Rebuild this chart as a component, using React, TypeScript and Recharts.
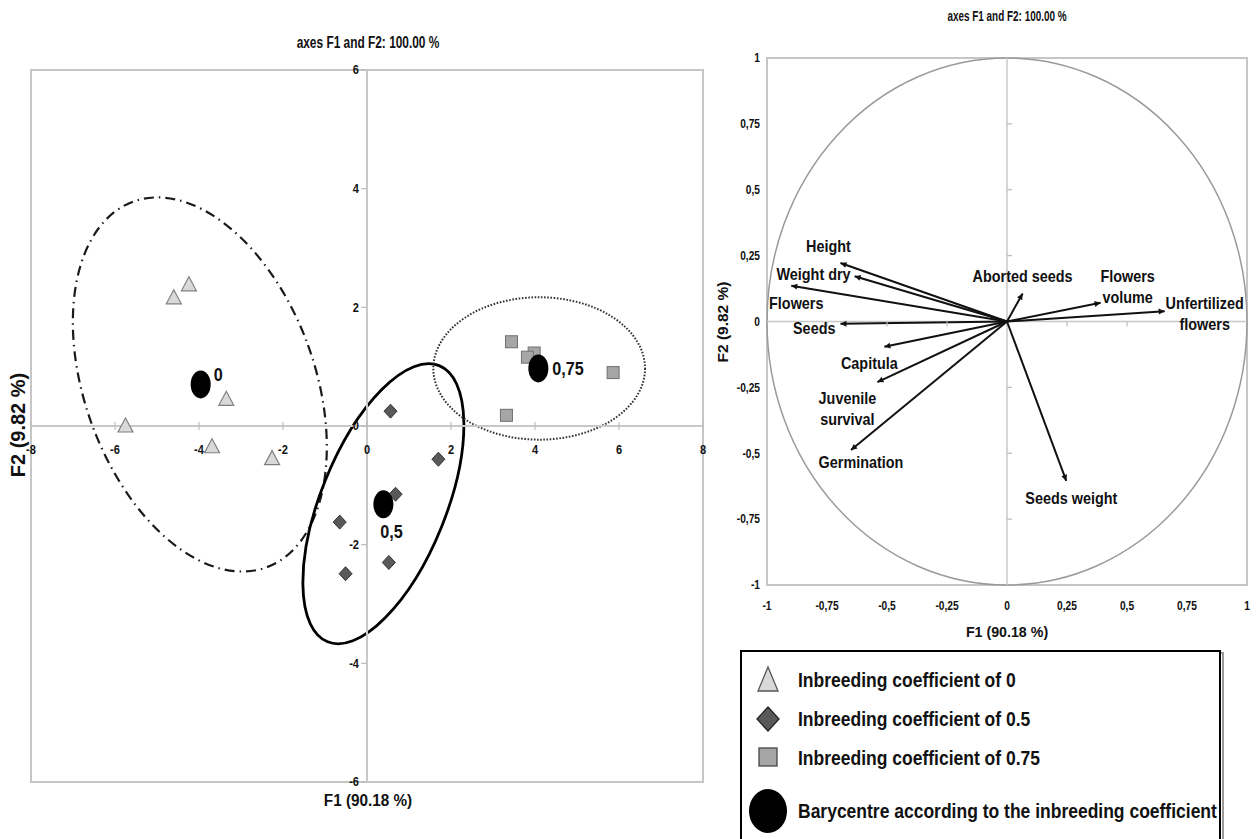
import React from 'react';
import {
    ScatterChart, Scatter, XAxis, YAxis,
    ReferenceLine, ReferenceArea, ReferenceDot
} from 'recharts';

// no Arial Narrow here: bold Liberation Sans squeezed horizontally
const SANS = "'Liberation Sans', Arial, Helvetica, sans-serif";

// ---- individuals plot (F1 x F2 scores) ----
const coef0 = [
    { x: -4.24, y: 2.38 }, { x: -4.6, y: 2.16 }, { x: -3.35, y: 0.45 },
    { x: -5.75, y: 0 }, { x: -3.69, y: -0.35 }, { x: -2.26, y: -0.55 },
];
const coef05 = [
    { x: 0.56, y: 0.25 }, { x: 1.7, y: -0.56 }, { x: 0.68, y: -1.15 },
    { x: -0.65, y: -1.62 }, { x: 0.52, y: -2.3 }, { x: -0.51, y: -2.49 },
];
const coef075 = [
    { x: 3.44, y: 1.42 }, { x: 3.98, y: 1.23 }, { x: 3.82, y: 1.16 },
    { x: 5.86, y: 0.9 }, { x: 3.32, y: 0.18 },
];
const barycentres = [
    { x: -3.96, y: 0.7, label: '0' },
    { x: 0.39, y: -1.32, label: '0,5' },
    { x: 4.08, y: 0.97, label: '0,75' },
];
// group ellipses: centre, half axes (data units, before rotation), screen rotation (deg)
const ellipses = [
    { cx: -3.98, cy: 0.7, rx: 2.74, ry: 3.28, angle: -20 },
    { cx: 0.39, cy: -1.31, rx: 1.49, ry: 2.51, angle: 22 },
    { cx: 4.1, cy: 0.97, rx: 2.52, ry: 1.2, angle: 0 },
];
const leftXTicks = [-8, -6, -4, -2, 0, 2, 4, 6, 8];
const leftYTicks = [-6, -4, -2, 0, 2, 4, 6];

// ---- correlation circle ----
const variables = [
    'Height', 'Weight dry', 'Flowers', 'Seeds', 'Capitula', 'Juvenile survival',
    'Germination', 'Seeds weight', 'Aborted seeds', 'Flowers volume', 'Unfertilized flowers',
];
const f1Loadings = [-0.694, -0.635, -0.899, -0.694, -0.511, -0.54, -0.65, 0.247, 0.065, 0.39, 0.657];
const f2Loadings = [0.222, 0.172, 0.136, -0.009, -0.096, -0.23, -0.488, -0.605, 0.106, 0.071, 0.039];
const circleTicks = [-1, -0.75, -0.5, -0.25, 0, 0.25, 0.5, 0.75, 1];

const legendItems = [
    'Inbreeding coefficient of 0',
    'Inbreeding coefficient of 0.5',
    'Inbreeding coefficient of 0.75',
    'Barycentre according to the inbreeding coefficient',
];

const loadings = variables.map((name, i) => ({ name, x: f1Loadings[i], y: f2Loadings[i] }));

// label placement for the arrows (pixels from the arrow tip)
const varLabelPos: Record<string, { dx: number; dy: number; anchor: string; lines: string[] }> = {
    'Height': { dx: -12, dy: -17, anchor: 'middle', lines: ['Height'] },
    'Weight dry': { dx: -4, dy: -2, anchor: 'end', lines: ['Weight dry'] },
    'Flowers': { dx: 5, dy: 18, anchor: 'middle', lines: ['Flowers'] },
    'Seeds': { dx: -5, dy: 4, anchor: 'end', lines: ['Seeds'] },
    'Capitula': { dx: -15, dy: 16, anchor: 'middle', lines: ['Capitula'] },
    'Juvenile survival': { dx: -30, dy: 16, anchor: 'middle', lines: ['Juvenile', 'survival'] },
    'Germination': { dx: 10, dy: 12, anchor: 'middle', lines: ['Germination'] },
    'Seeds weight': { dx: 5, dy: 17, anchor: 'middle', lines: ['Seeds weight'] },
    'Aborted seeds': { dx: 0, dy: -17, anchor: 'middle', lines: ['Aborted seeds'] },
    'Flowers volume': { dx: 27, dy: -27, anchor: 'middle', lines: ['Flowers', 'volume'] },
    'Unfertilized flowers': { dx: 40, dy: -8, anchor: 'middle', lines: ['Unfertilized', 'flowers'] },
};

const ellipseStyles = [
    { stroke: '#1a1a1a', strokeWidth: 2.2, strokeDasharray: '10 5 1.5 5' },
    { stroke: '#000', strokeWidth: 2.8, strokeDasharray: undefined },
    { stroke: '#333', strokeWidth: 2, strokeDasharray: '1.6 1.6' },
];

const fmt = (v: number) => String(v).replace('.', ',');

const NText = ({ x, y, size, scale = 0.88, anchor = 'start', rotate = 0, children }: any) => (
    <text transform={`translate(${x} ${y}) rotate(${rotate}) scale(${scale} 1)`} textAnchor={anchor}
        dominantBaseline="central" fontFamily={SANS} fontWeight={700} fontSize={size} fill="#111">{children}</text>
);

const Triangle = (p: any) => (
    <polygon
        points={`${p.cx},${p.cy - 8} ${p.cx + 7.5},${p.cy + 6} ${p.cx - 7.5},${p.cy + 6}`}
        fill="#d9d9d9" stroke="#808080" strokeWidth={1.2}
    />
);
const Diamond = (p: any) => (
    <polygon
        points={`${p.cx},${p.cy - 7} ${p.cx + 6.5},${p.cy} ${p.cx},${p.cy + 7} ${p.cx - 6.5},${p.cy}`}
        fill="#595959" stroke="#333" strokeWidth={1}
    />
);
const Square = (p: any) => (
    <rect x={p.cx - 6} y={p.cy - 6} width={12} height={12} fill="#a6a6a6" stroke="#6f6f6f" strokeWidth={1} />
);
const baryLabelOffset: Record<string, { dx: number; dy: number; anchor: string }> = {
    '0': { dx: 13, dy: -9, anchor: 'start' },
    '0,5': { dx: 8, dy: 28, anchor: 'middle' },
    '0,75': { dx: 14, dy: 1, anchor: 'start' },
};
const Barycentre = (p: any) => {
    const o = baryLabelOffset[p.payload.label];
    return (
        <g>
            <ellipse cx={p.cx} cy={p.cy} rx={10} ry={14} fill="#000" />
            <NText x={p.cx + o.dx} y={p.cy + o.dy} anchor={o.anchor} size={18} scale={0.9}>{p.payload.label}</NText>
        </g>
    );
};

const EllipseShape = (style: any, angle: number) => (p: any) => {
    const cx = p.x + p.width / 2;
    const cy = p.y + p.height / 2;
    return (
        <ellipse cx={cx} cy={cy} rx={Math.abs(p.width) / 2} ry={Math.abs(p.height) / 2}
            transform={`rotate(${angle} ${cx} ${cy})`} fill="none" {...style} />
    );
};
const BoxShape = (p: any) => (
    <rect x={p.x} y={p.y} width={p.width} height={p.height} fill="none" stroke="#c6c6c6" strokeWidth={2} />
);

const xTickDot = (v: number) => (p: any) => (
    <g>
        <line x1={p.cx} x2={p.cx} y1={p.cy - 4} y2={p.cy + 4} stroke="#bdbdbd" strokeWidth={1.2} />
        <NText x={p.cx} y={p.cy + 24} anchor="middle" size={13} scale={0.85}>{v}</NText>
    </g>
);
const yTickDot = (v: number) => (p: any) => (
    <g>
        <line x1={p.cx - 6} x2={p.cx} y1={p.cy} y2={p.cy} stroke="#bdbdbd" strokeWidth={1.2} />
        <NText x={p.cx - 8} y={p.cy} anchor="end" size={13} scale={0.85}>{v}</NText>
    </g>
);

const ArrowLine = (p: any) => {
    const { x1, y1, x2, y2 } = p;
    const ang = Math.atan2(y2 - y1, x2 - x1);
    const len = 6;
    const w = 3;
    const bx = x2 - len * Math.cos(ang);
    const by = y2 - len * Math.sin(ang);
    return (
        <g>
            <line x1={x1} y1={y1} x2={x2} y2={y2} stroke="#111" strokeWidth={2} />
            <polygon
                points={`${x2},${y2} ${bx - w * Math.sin(ang)},${by + w * Math.cos(ang)} ${bx + w * Math.sin(ang)},${by - w * Math.cos(ang)}`}
                fill="#111"
            />
        </g>
    );
};
const VarLabel = (p: any) => {
    const lp = varLabelPos[p.payload.name];
    return (
        <g>
            {lp.lines.map((t, i) => (
                <NText key={t} x={p.cx + lp.dx} y={p.cy + lp.dy + i * 21} anchor={lp.anchor} size={16} scale={0.9}>{t}</NText>
            ))}
        </g>
    );
};

const vTickMark = (p: any) => <line x1={p.cx} x2={p.cx} y1={p.cy} y2={p.cy + 5} stroke="#bbb" strokeWidth={1.2} />;
const hTickMark = (p: any) => <line x1={p.cx} x2={p.cx + 5} y1={p.cy} y2={p.cy} stroke="#bbb" strokeWidth={1.2} />;

const XTick = (p: any) => (
    <NText x={p.x} y={p.y + 6} anchor="middle" size={12} scale={0.85}>{fmt(p.payload.value)}</NText>
);
const YTick = (p: any) => (
    <NText x={p.x} y={p.y} anchor="end" size={12} scale={0.85}>{fmt(p.payload.value)}</NText>
);

function IndividualsChart() {
    return (
        <ScatterChart width={720} height={839} margin={{ top: 70, right: 17, bottom: 57, left: 31 }}>
            <XAxis type="number" dataKey="x" domain={[-8, 8]} hide />
            <YAxis type="number" dataKey="y" domain={[-6, 6]} hide />
            <ReferenceArea x1={-8} x2={8} y1={-6} y2={6} ifOverflow="visible" shape={BoxShape} />
            <ReferenceLine x={0} stroke="#c8c8c8" strokeWidth={2} />
            <ReferenceLine y={0} stroke="#c8c8c8" strokeWidth={2} />
            {leftXTicks.map(v => (
                <ReferenceDot key={'x' + v} x={v} y={0} ifOverflow="visible" shape={xTickDot(v)} />
            ))}
            {leftYTicks.map(v => (
                <ReferenceDot key={'y' + v} x={0} y={v} ifOverflow="visible" shape={yTickDot(v)} />
            ))}
            {ellipses.map((e, i) => (
                <ReferenceArea key={'e' + i} x1={e.cx - e.rx} x2={e.cx + e.rx} y1={e.cy - e.ry} y2={e.cy + e.ry}
                    ifOverflow="visible" shape={EllipseShape(ellipseStyles[i], e.angle)} />
            ))}
            <Scatter name="Inbreeding coefficient of 0" data={coef0} shape={Triangle} isAnimationActive={false} />
            <Scatter name="Inbreeding coefficient of 0.5" data={coef05} shape={Diamond} isAnimationActive={false} />
            <Scatter name="Inbreeding coefficient of 0.75" data={coef075} shape={Square} isAnimationActive={false} />
            <Scatter name="Barycentre" data={barycentres} shape={Barycentre} isAnimationActive={false} />
        </ScatterChart>
    );
}

function CorrelationCircle() {
    const inner = circleTicks.filter(v => Math.abs(v) !== 1 && v !== 0);
    return (
        <ScatterChart width={537} height={640} margin={{ top: 58, right: 10, bottom: 25, left: 7 }}>
            <XAxis type="number" dataKey="x" domain={[-1, 1]} ticks={circleTicks} interval={0}
                height={30} axisLine={false} tickLine={false} tickSize={0} tickMargin={15}
                tick={<XTick />} />
            <YAxis type="number" dataKey="y" domain={[-1, 1]} ticks={circleTicks} interval={0}
                width={40} axisLine={false} tickLine={false} tickSize={0} tickMargin={7}
                tick={<YTick />} />
            <ReferenceArea x1={-1} x2={1} y1={-1} y2={1} ifOverflow="visible" shape={BoxShape} />
            <ReferenceLine x={0} stroke="#c8c8c8" strokeWidth={1.5} />
            <ReferenceLine y={0} stroke="#c8c8c8" strokeWidth={1.5} />
            {inner.map(v => (
                <ReferenceDot key={'cx' + v} x={v} y={0} ifOverflow="visible" shape={vTickMark} />
            ))}
            {inner.map(v => (
                <ReferenceDot key={'cy' + v} x={0} y={v} ifOverflow="visible" shape={hTickMark} />
            ))}
            <ReferenceArea x1={-1} x2={1} y1={-1} y2={1} ifOverflow="visible"
                shape={EllipseShape({ stroke: '#9a9a9a', strokeWidth: 1.5 }, 0)} />
            {loadings.map(d => (
                <ReferenceLine key={d.name} ifOverflow="visible"
                    segment={[{ x: 0, y: 0 }, { x: d.x, y: d.y }]}
                    shape={ArrowLine} />
            ))}
            <Scatter name="Variables" data={loadings} shape={VarLabel} isAnimationActive={false} />
        </ScatterChart>
    );
}

function Annotations() {
    return (
        <svg width={1257} height={839} style={{ position: 'absolute', left: 0, top: 0, pointerEvents: 'none' }}>
            <NText x={368} y={42} anchor="middle" size={17} scale={0.7}>axes F1 and F2: 100.00 %</NText>
            <NText x={368} y={800} anchor="middle" size={17} scale={0.9}>F1 (90.18 %)</NText>
            <NText x={18} y={425} anchor="middle" size={20} scale={1} rotate={-90}>F2 (9.82 %)</NText>
            <NText x={1007} y={16} anchor="middle" size={14} scale={0.71}>axes F1 and F2: 100.00 %</NText>
            <NText x={1007} y={632} anchor="middle" size={15} scale={0.95}>F1 (90.18 %)</NText>
            <NText x={722} y={322} anchor="middle" size={15.5} scale={1} rotate={-90}>F2 (9.82 %)</NText>

            <g transform="translate(741 651)">
                <rect x={3} y={2} width={479} height={200} fill="none" stroke="#9a9a9a" strokeWidth={2} />
                <rect x={0} y={0} width={479} height={200} fill="#fff" stroke="#000" strokeWidth={2} />
                <polygon points="27,16 37,40 17,40" fill="#d9d9d9" stroke="#555" strokeWidth={1.3} />
                <polygon points="27,56 38,68 27,80 16,68" fill="#595959" stroke="#222" strokeWidth={1.3} />
                <rect x={18} y={97} width={18} height={18} fill="#a6a6a6" stroke="#444" strokeWidth={1.3} />
                <ellipse cx={27} cy={160} rx={19} ry={22} fill="#000" />
                {legendItems.map((s, i) => (
                    <NText key={s} x={57} y={[29, 68, 107, 160][i]} size={20} scale={0.875}>{s}</NText>
                ))}
            </g>
        </svg>
    );
}

export default function App() {
    return (
        <div style={{ position: 'absolute', left: 0, top: 0, width: 1257, height: 839, background: '#fff', overflow: 'hidden' }}>
            <div style={{ position: 'absolute', left: 0, top: 0 }}>
                <IndividualsChart />
            </div>
            <div style={{ position: 'absolute', left: 720, top: 0 }}>
                <CorrelationCircle />
            </div>
            <Annotations />
        </div>
    );
}
